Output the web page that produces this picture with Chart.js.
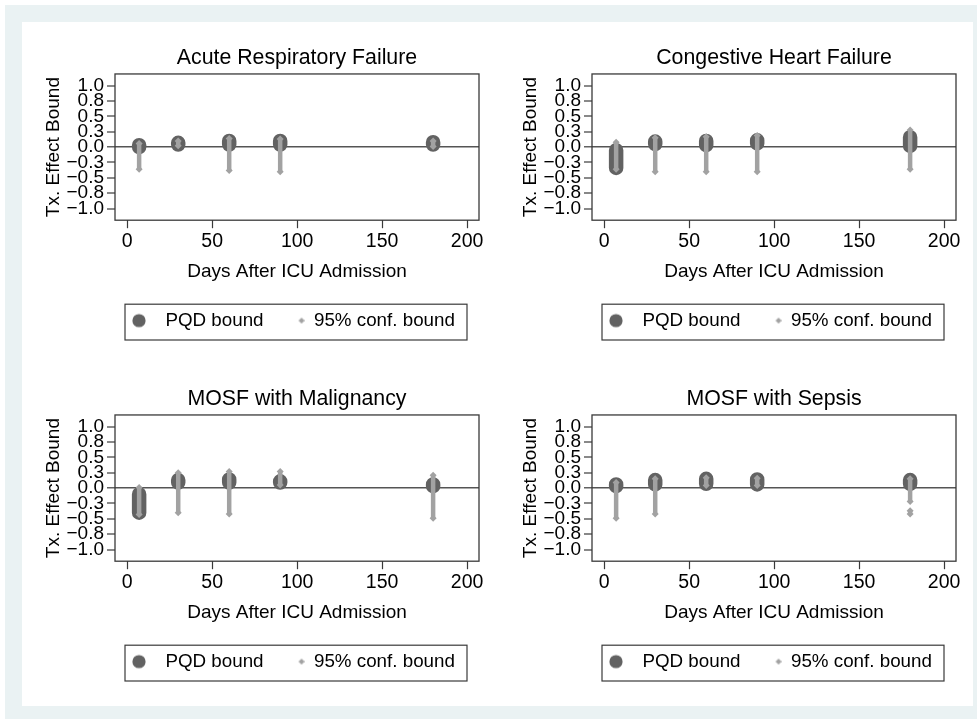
<!DOCTYPE html>
<html lang="en">
<head>
<meta charset="UTF-8">
<title>Tx. Effect Bound by Days After ICU Admission</title>
<script src="https://cdn.jsdelivr.net/npm/chart.js"></script>
<style>
  body { margin: 0; background: #fff; }
  #frame { position: absolute; left: 5px; top: 5px; width: 972px; height: 714px; background: #eaf2f3; }
  #inner { position: absolute; left: 22px; top: 22px; width: 951px; height: 684px; background: #fff; }
  canvas { position: absolute; }
</style>
</head>
<body>
<div id="frame"></div>
<div id="inner"></div>
<canvas id="arf" width="470" height="320" style="left:30px;top:35px"></canvas>
<canvas id="chf" width="470" height="320" style="left:507px;top:35px"></canvas>
<canvas id="mal" width="470" height="320" style="left:30px;top:376px"></canvas>
<canvas id="sep" width="470" height="320" style="left:507px;top:376px"></canvas>
<script>
// days after admission where the bounds were computed
var days = [7, 30, 60, 90, 180];

// PQD bound range per day: [low, high]
var arfPqd = [[0.00, 0.03], [0.04, 0.07], [0.04, 0.10], [0.04, 0.10], [0.04, 0.08]];
var chfPqd = [[-0.34, -0.05], [0.05, 0.09], [0.03, 0.10], [0.06, 0.11], [0.02, 0.16]];
var malPqd = [[-0.40, -0.10], [0.09, 0.13], [0.09, 0.14], [0.09, 0.11], [0.03, 0.06]];
var sepPqd = [[0.03, 0.06], [0.06, 0.13], [0.07, 0.15], [0.06, 0.14], [0.07, 0.13]];

// 95% conf. bound range per day: [low, high, low2, high2 ...] when the bound is split
var arfConf = [[-0.36, 0.06], [0.02, 0.10], [-0.38, 0.14], [-0.40, 0.13], [0.01, 0.10]];
var chfConf = [[-0.36, 0.08], [-0.40, 0.15], [-0.40, 0.17], [-0.40, 0.19], [-0.36, 0.28]];
var malConf = [[-0.43, 0.01], [-0.40, 0.25], [-0.42, 0.27], [0.05, 0.27], [-0.49, 0.21]];
var sepConf = [[-0.49, 0.09], [-0.42, 0.15], [0.04, 0.17], [0.04, 0.16], [-0.22, 0.15, -0.42, -0.37]];

var xTicks = [0, 50, 100, 150, 200];
var yTicks = [-1, -0.75, -0.5, -0.25, 0, 0.25, 0.5, 0.75, 1];
var yTickLabels = ['\u22121.0', '\u22120.8', '\u22120.5', '\u22120.3', '0.0', '0.3', '0.5', '0.8', '1.0'];

var PQD_COLOR = '#626262';
var CONF_COLOR = '#a2a2a2';
var FONT = 'Liberation Sans, Arial, sans-serif';

// turn [low, high] pairs into vertical line pieces, broken by null points
function ranges(vals) {
    var pts = [];
    days.forEach(function (d, i) {
        var v = vals[i];
        for (var k = 0; k < v.length; k += 2) {
            pts.push({x: d, y: v[k]}, {x: d, y: v[k + 1]}, {x: d, y: null});
        }
    });
    return pts;
}

function markerImage(draw) {
    var c = document.createElement('canvas');
    c.width = 34;
    c.height = 18;
    draw(c.getContext('2d'));
    return c;
}

var pqdMark = markerImage(function (g) {
    g.fillStyle = PQD_COLOR;
    g.beginPath();
    g.arc(17, 9, 6.6, 0, Math.PI * 2);
    g.fill();
});

var confMark = markerImage(function (g) {
    g.fillStyle = CONF_COLOR;
    g.beginPath();
    g.moveTo(31, 6);
    g.lineTo(34, 9);
    g.lineTo(31, 12);
    g.lineTo(28, 9);
    g.closePath();
    g.fill();
});

// box round the plot region and round the legend
var frames = {
    id: 'frames',
    beforeDatasetsDraw: function (chart) {
        var a = chart.chartArea, ctx = chart.ctx;
        ctx.save();
        ctx.strokeStyle = '#3a3a3a';
        ctx.lineWidth = 1.3;
        ctx.strokeRect(a.left, a.top, a.right - a.left, a.bottom - a.top);
        ctx.restore();
    },
    afterDraw: function (chart) {
        var l = chart.legend, ctx = chart.ctx;
        ctx.save();
        ctx.strokeStyle = '#3a3a3a';
        ctx.lineWidth = 1.2;
        ctx.strokeRect(l.left + 10, l.top, l.width - 22, l.height);
        ctx.restore();
    }
};

function panel(id, title, pqd, conf) {
    new Chart(document.getElementById(id), {
        type: 'line',
        data: {
            datasets: [{
                label: 'PQD bound',
                data: ranges(pqd),
                borderColor: PQD_COLOR,
                borderWidth: 14.5,
                borderCapStyle: 'round',
                pointRadius: 0,
                spanGaps: false,
                order: 1
            }, {
                label: '95% conf. bound',
                data: ranges(conf),
                borderColor: CONF_COLOR,
                borderWidth: 4.5,
                borderCapStyle: 'butt',
                pointStyle: 'rectRot',
                pointRadius: 3.5,
                pointBorderWidth: 0,
                pointBackgroundColor: CONF_COLOR,
                spanGaps: false,
                order: 0
            }]
        },
        options: {
            responsive: false,
            animation: false,
            layout: {padding: {left: 0, right: 21, top: 0, bottom: 15}},
            scales: {
                x: {
                    type: 'linear',
                    min: -7.2,
                    max: 207,
                    afterBuildTicks: function (s) { s.ticks = xTicks.map(function (v) { return {value: v}; }); },
                    afterFit: function (s) { s.height = 84; },
                    border: {display: false},
                    grid: {drawOnChartArea: false, tickLength: 8, tickColor: '#3a3a3a', tickWidth: 1.2},
                    ticks: {autoSkip: false, maxRotation: 0, color: '#000', padding: 2, font: {family: FONT, size: 19.5}},
                    title: {display: true, text: 'Days After ICU Admission', color: '#000',
                        font: {family: FONT, size: 19}, padding: {top: 0, bottom: 21}}
                },
                y: {
                    type: 'linear',
                    min: -1.19,
                    max: 1.19,
                    afterBuildTicks: function (s) { s.ticks = yTicks.map(function (v) { return {value: v}; }); },
                    afterFit: function (s) { s.width = 85; },
                    border: {display: false},
                    grid: {
                        drawOnChartArea: true,
                        tickLength: 8,
                        tickColor: '#3a3a3a',
                        tickWidth: 1.2,
                        color: function (c) { return c.tick && c.tick.value === 0 ? '#555555' : 'rgba(0,0,0,0)'; },
                        lineWidth: function (c) { return c.tick && c.tick.value === 0 ? 1.6 : 0; }
                    },
                    ticks: {
                        autoSkip: false,
                        color: '#000',
                        padding: 3,
                        font: {family: FONT, size: 19},
                        callback: function (v, i) { return yTickLabels[i]; }
                    },
                    title: {display: true, text: 'Tx. Effect Bound', color: '#000',
                        font: {family: FONT, size: 19}, padding: {top: 12.6, bottom: 0}}
                }
            },
            plugins: {
                title: {
                    display: true,
                    text: title,
                    fullSize: false,
                    color: '#000',
                    font: {family: FONT, size: 21.3, weight: 'normal'},
                    padding: {top: 10, bottom: 3.4}
                },
                legend: {
                    position: 'bottom',
                    align: 'start',
                    fullSize: false,
                    labels: {
                        usePointStyle: true,
                        pointStyleWidth: 34,
                        padding: 7,
                        color: '#000',
                        font: {family: FONT, size: 18.8},
                        generateLabels: function () {
                            return [
                                {text: 'PQD bound', pointStyle: pqdMark, fillStyle: PQD_COLOR, strokeStyle: PQD_COLOR, lineWidth: 0, fontColor: '#000', hidden: false, datasetIndex: 0},
                                {text: '95% conf. bound', pointStyle: confMark, fillStyle: CONF_COLOR, strokeStyle: CONF_COLOR, lineWidth: 0, fontColor: '#000', hidden: false, datasetIndex: 1}
                            ];
                        }
                    }
                },
                tooltip: {enabled: false}
            }
        },
        plugins: [frames]
    });
}

panel('arf', 'Acute Respiratory Failure', arfPqd, arfConf);
panel('chf', 'Congestive Heart Failure', chfPqd, chfConf);
panel('mal', 'MOSF with Malignancy', malPqd, malConf);
panel('sep', 'MOSF with Sepsis', sepPqd, sepConf);
</script>
</body>
</html>
